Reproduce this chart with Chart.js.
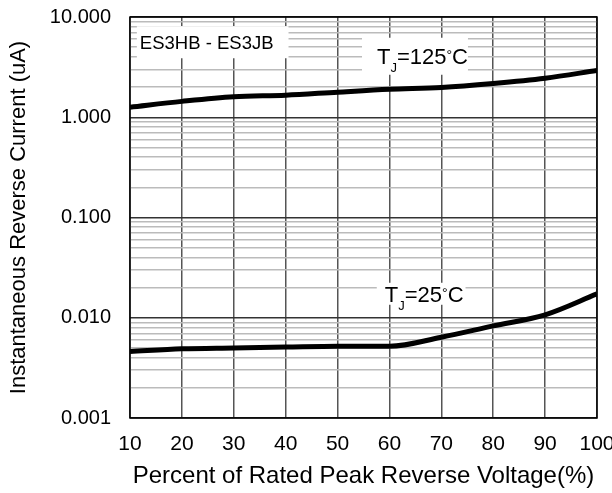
<!DOCTYPE html>
<html>
<head>
<meta charset="utf-8">
<script src="https://cdn.jsdelivr.net/npm/chart.js@4.4.0/dist/chart.umd.min.js"></script>
<style>
  html, body { margin: 0; padding: 0; background: #fff; }
  #wrap { width: 612px; height: 493px; }
</style>
</head>
<body>
<div id="wrap"><canvas id="chart"></canvas></div>
<script>
// data
var voltagePct = [10, 20, 30, 40, 50, 60, 70, 80, 90, 100];
var current125 = [1.26, 1.44, 1.60, 1.66, 1.78, 1.90, 1.98, 2.17, 2.45, 2.93];
var current25 = [0.0046, 0.0049, 0.0050, 0.0051, 0.0052, 0.0052, 0.0064, 0.0083, 0.0107, 0.0173];
var decadeTicks = [0.001, 0.01, 0.1, 1, 10];
var decadeLabels = ['0.001', '0.010', '0.100', '1.000', '10.000'];
var xTickLabels = ['10', '20', '30', '40', '50', '60', '70', '80', '90', '100'];

var FONT = '"Liberation Sans", Arial, sans-serif';

// all log gridlines: decades plus 2..9 between them
function logGridTicks() {
  var out = [];
  for (var d = 0; d < decadeTicks.length; d++) {
    out.push(decadeTicks[d]);
    if (d < decadeTicks.length - 1) {
      for (var m = 2; m <= 9; m++) out.push(+(decadeTicks[d] * m).toPrecision(3));
    }
  }
  return out;
}
function decadeIndex(v) {
  return decadeTicks.findIndex(function (d) { return Math.abs(d - v) / d < 1e-6; });
}

// text labels: parts are [text, font size, shift from baseline]; x, y in data units
var notes = [
  { parts: [['ES3HB - ES3JB', 18.5, 0]], size: 18.5, x: 11.9, y: 5.6, padL: 3, padR: 15, h: 32 },
  { parts: [['T', 22, 0], ['J', 13, 8], ['=125', 22, 0], ['°', 14, -4], ['C', 22, 0]], size: 22, x: 57.6, y: 4.06, padL: 15, padR: 0, h: 37 },
  { parts: [['T', 22, 0], ['J', 13, 8], ['=25', 22, 0], ['°', 14, -4], ['C', 22, 0]], size: 22, x: 59.1, y: 0.01735, padL: 8, padR: 2, h: 22 }
];

var notesPlugin = {
  id: 'notes',
  afterDatasetsDraw: function (chart) {
    var ctx = chart.ctx, xs = chart.scales.x, ys = chart.scales.y;
    ctx.save();
    notes.forEach(function (n) {
      var px = xs.getPixelForValue(n.x), py = ys.getPixelForValue(n.y);
      var w = 0;
      n.parts.forEach(function (p) {
        ctx.font = p[1] + 'px ' + FONT;
        w += ctx.measureText(p[0]).width;
      });
      ctx.fillStyle = '#fff';
      ctx.fillRect(px - n.padL, py - n.h / 2, w + n.padL + n.padR, n.h);
      ctx.fillStyle = '#000';
      ctx.textBaseline = 'alphabetic';
      ctx.textAlign = 'left';
      var base = py + n.size * 0.358;
      var cx = px;
      n.parts.forEach(function (p) {
        ctx.font = p[1] + 'px ' + FONT;
        ctx.fillText(p[0], cx, base + p[2]);
        cx += ctx.measureText(p[0]).width;
      });
    });
    ctx.restore();
  }
};

var framePlugin = {
  id: 'frame',
  afterDatasetsDraw: function (chart) {
    var a = chart.chartArea, ctx = chart.ctx;
    ctx.save();
    ctx.strokeStyle = '#000';
    ctx.lineWidth = 1.5;
    ctx.strokeRect(a.left, a.top, a.right - a.left, a.bottom - a.top);
    ctx.restore();
  }
};

new Chart(document.getElementById('chart'), {
  type: 'line',
  data: {
    datasets: [
      { label: 'TJ=125', data: voltagePct.map(function (x, i) { return { x: x, y: current125[i] }; }) },
      { label: 'TJ=25', data: voltagePct.map(function (x, i) { return { x: x, y: current25[i] }; }) }
    ]
  },
  options: {
    responsive: true,
    maintainAspectRatio: false,
    animation: false,
    layout: { padding: { top: 17, right: 15, left: 0, bottom: 0 } },
    elements: {
      line: { borderColor: '#000', borderWidth: 5, cubicInterpolationMode: 'monotone', fill: false },
      point: { radius: 0, hoverRadius: 0 }
    },
    plugins: { legend: { display: false }, tooltip: { enabled: false } },
    scales: {
      x: {
        type: 'linear',
        min: 10,
        max: 100,
        afterBuildTicks: function (scale) {
          scale.ticks = voltagePct.map(function (v) { return { value: v }; });
        },
        afterFit: function (scale) {
          scale.height = 75;
          scale.paddingLeft = 0;
          scale.paddingRight = 0;
        },
        ticks: {
          autoSkip: false,
          maxRotation: 0,
          padding: 14,
          color: '#000',
          font: { family: FONT, size: 21 },
          callback: function (v, i) { return xTickLabels[i]; }
        },
        grid: { color: '#555', lineWidth: 1.5, drawTicks: false },
        border: { display: false },
        title: {
          display: true,
          text: 'Percent of Rated Peak Reverse Voltage(%)',
          color: '#000',
          font: { family: FONT, size: 24 },
          padding: { top: 4, bottom: 2 }
        }
      },
      y: {
        type: 'logarithmic',
        min: 0.001,
        max: 10,
        afterBuildTicks: function (scale) {
          scale.ticks = logGridTicks().map(function (v) { return { value: v }; });
        },
        afterFit: function (scale) {
          scale.width = 130;
          scale.paddingTop = 0;
          scale.paddingBottom = 0;
        },
        ticks: {
          autoSkip: false,
          padding: 19,
          color: '#000',
          font: { family: FONT, size: 20 },
          callback: function (v) {
            var i = decadeIndex(v);
            return i >= 0 ? decadeLabels[i] : '';
          }
        },
        grid: {
          drawTicks: false,
          lineWidth: 1.5,
          color: function (c) { return c.tick && decadeIndex(c.tick.value) >= 0 ? '#333' : '#bbb'; }
        },
        border: { display: false },
        title: {
          display: true,
          text: 'Instantaneous Reverse Current (uA)',
          color: '#000',
          font: { family: FONT, size: 22 },
          padding: { top: 6, bottom: 0 }
        }
      }
    }
  },
  plugins: [notesPlugin, framePlugin]
});
</script>
</body>
</html>
